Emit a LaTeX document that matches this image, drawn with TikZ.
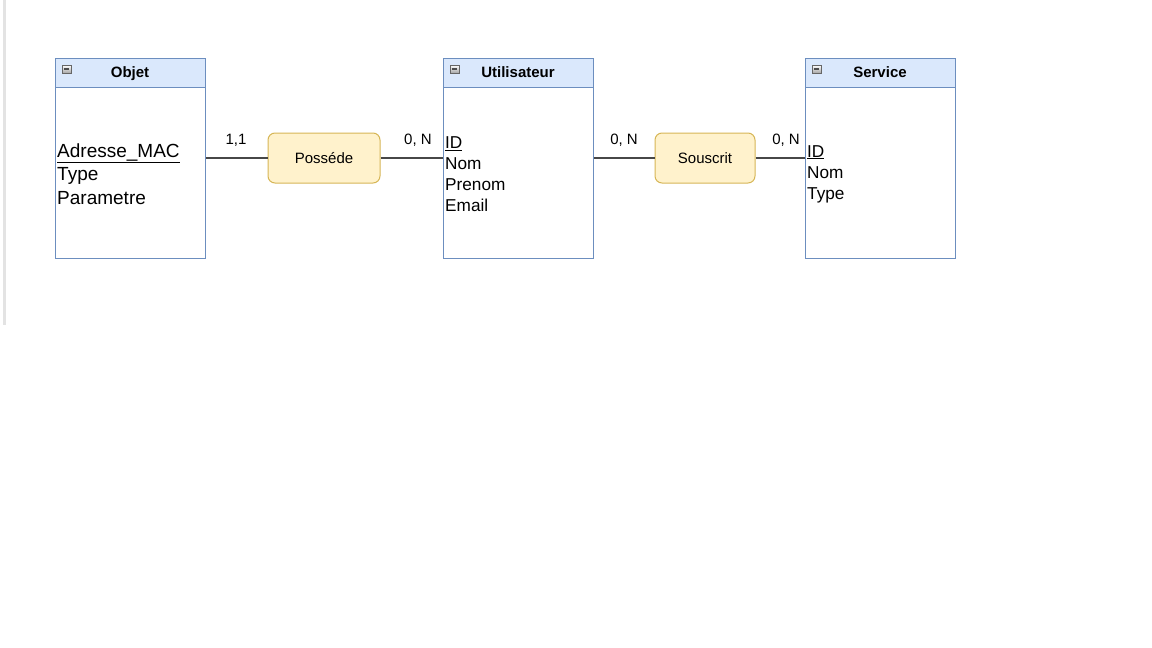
\documentclass[tikz,border=0pt]{standalone}
\usepackage{fontspec}
\setmainfont{Liberation Sans}
\definecolor{entfill}{HTML}{DAE8FC}
\definecolor{entdraw}{HTML}{6C8EBF}
\definecolor{relfill}{HTML}{FFF2CC}
\definecolor{reldraw}{HTML}{D6B656}
\definecolor{edgegray}{HTML}{E3E3E3}
\begin{document}
\begin{tikzpicture}[x=1pt,y=-1pt,
  enthead/.style={draw=entdraw, fill=entfill, line width=1pt, minimum width=150pt, minimum height=29pt, anchor=north west, inner sep=0pt},
  entbody/.style={draw=entdraw, fill=white, line width=1pt, minimum width=150pt, minimum height=171pt, anchor=north west, inner sep=0pt},
  enttitle/.style={font=\fontsize{15}{17}\selectfont\bfseries, inner sep=0pt, anchor=base},
  attrs/.style={align=left, anchor=west, inner sep=2pt},
  icon/.style={draw=black!60, top color=white, bottom color=black!35, minimum width=9pt, minimum height=8pt, inner sep=0pt, line width=0.6pt},
  rel/.style={draw=reldraw, fill=relfill, line width=1pt, rounded corners=7pt, minimum height=50pt, inner sep=0pt, font=\fontsize{15}{17}\selectfont},
  card/.style={font=\fontsize{15}{17}\selectfont, inner sep=0pt, anchor=base},
  conn/.style={draw=black!72, line width=1.5pt}
]
\useasboundingbox (0,0) rectangle (1152,648);
\fill[edgegray] (3,0) rectangle (5.5,325);

% Objet
\node[entbody] (objet) at (55,87) {};
\node[enthead] (objeth) at (55,58) {};
\node[enttitle] (objett) at (130,77.5) {Objet};
\node[icon] (objeti) at (66.5,69) {};
\draw[black!70, line width=1.2pt] ([xshift=2pt]objeti.west) -- ([xshift=-2pt]objeti.east);
\node[attrs, font=\fontsize{19}{23.5}\selectfont] (objeta) at (55,174) {\underline{Adresse\_MAC}\\Type\\Parametre};

% Utilisateur
\node[entbody] (util) at (443,87) {};
\node[enthead] (utilh) at (443,58) {};
\node[enttitle] (utilt) at (518,77.5) {Utilisateur};
\node[icon] (utili) at (454.5,69) {};
\draw[black!70, line width=1.2pt] ([xshift=2pt]utili.west) -- ([xshift=-2pt]utili.east);
\node[attrs, font=\fontsize{17.2}{21}\selectfont] (utila) at (443,174.5) {\underline{ID}\\Nom\\Prenom\\Email};

% Service
\node[entbody] (serv) at (805,87) {};
\node[enthead] (servh) at (805,58) {};
\node[enttitle] (servt) at (880,77.5) {Service};
\node[icon] (servi) at (816.5,69) {};
\draw[black!70, line width=1.2pt] ([xshift=2pt]servi.west) -- ([xshift=-2pt]servi.east);
\node[attrs, font=\fontsize{17.2}{21}\selectfont] (serva) at (805,174) {\underline{ID}\\Nom\\Type};

% Relations
\node[rel, minimum width=112pt] (posse) at (324,158) {Posséde};
\node[rel, minimum width=100pt] (sousc) at (705,158) {Souscrit};

% Connectors
\draw[conn] (objet.east |- posse.west) -- (posse.west);
\draw[conn] (posse.east) -- (util.west |- posse.east);
\draw[conn] (util.east |- sousc.west) -- (sousc.west);
\draw[conn] (sousc.east) -- (serv.west |- sousc.east);

% Cardinalities
\node[card] (c1) at (236,144.5) {1,1};
\node[card] (c2) at (418,144.5) {0, N};
\node[card] (c3) at (624,144.5) {0, N};
\node[card] (c4) at (786,144.5) {0, N};
\end{tikzpicture}
\end{document}
